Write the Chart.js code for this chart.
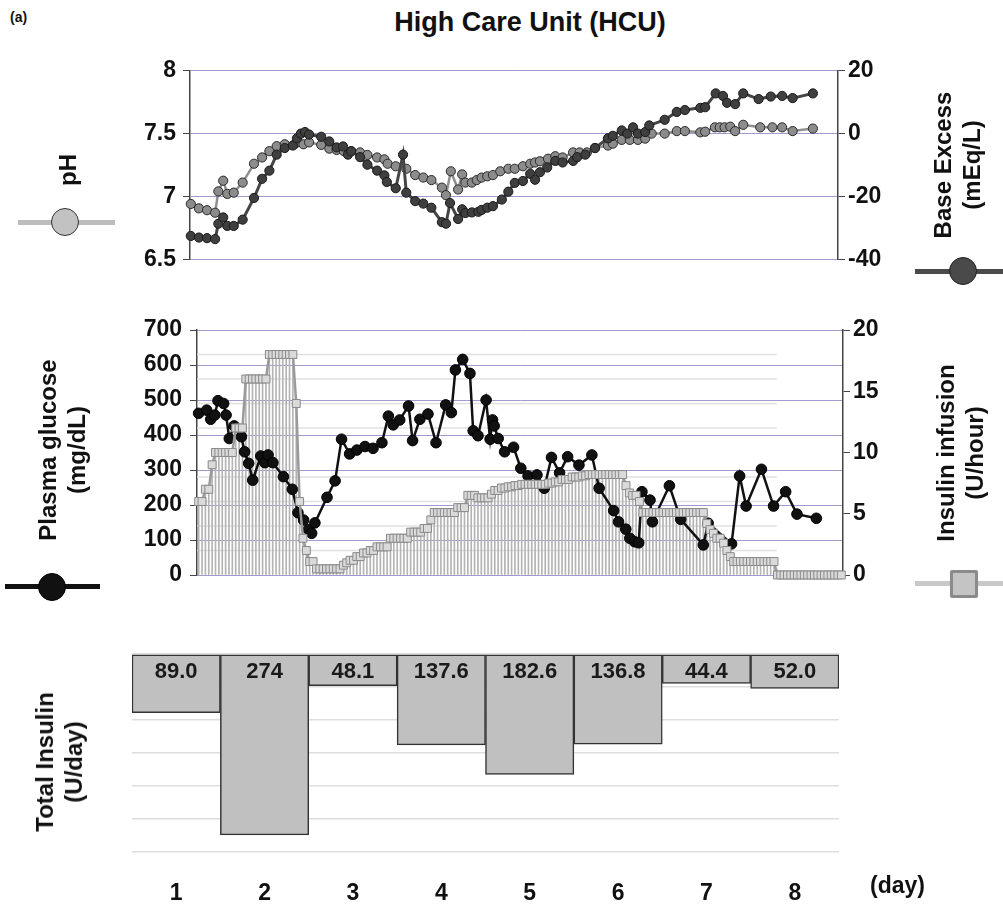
<!DOCTYPE html>
<html>
<head>
<meta charset="utf-8">
<title>High Care Unit (HCU)</title>
<script src="https://cdn.jsdelivr.net/npm/chart.js@4.4.1/dist/chart.umd.min.js"></script>
<style>
  body { margin: 0; background: #fff; font-family: "Liberation Sans", Arial, sans-serif; color: #111; }
  #page { position: relative; width: 1003px; height: 905px; overflow: hidden; }
  canvas { position: absolute; left: 0; }
  .txt { position: absolute; font-weight: bold; white-space: nowrap; }
  .vtitle { position: absolute; font-weight: bold; font-size: 24px; line-height: 29px; text-align: center;
            white-space: nowrap; transform: translate(-50%, -50%) rotate(-90deg); }
  .leg-line { position: absolute; height: 5px; }
  .leg-mark { position: absolute; width: 28px; height: 28px; box-sizing: border-box; transform: translate(-50%, -50%); }
</style>
</head>
<body>
<div id="page">
  <div class="txt" style="left:10px; top:9px; font-size:14px;">(a)</div>
  <div class="txt" style="left:530px; top:22px; font-size:27px; transform:translate(-50%,-50%);">High Care Unit (HCU)</div>

  <canvas id="gasChart" width="1003" height="230" style="top:50px"></canvas>
  <canvas id="glucoseChart" width="1003" height="300" style="top:300px"></canvas>
  <canvas id="dailyChart" width="1003" height="275" style="top:630px"></canvas>

  <!-- axis titles -->
  <div class="vtitle" style="left:67px; top:170px;">pH</div>
  <div class="vtitle" style="left:957px; top:165px;">Base Excess<br>(mEq/L)</div>
  <div class="vtitle" style="left:62px; top:450px;">Plasma glucose<br>(mg/dL)</div>
  <div class="vtitle" style="left:960px; top:453px;">Insulin infusion<br>(U/hour)</div>
  <div class="vtitle" style="left:59px; top:762px;">Total Insulin<br>(U/day)</div>
  <div class="txt" style="left:870px; top:872px; font-size:23px;">(day)</div>

  <!-- legend keys -->
  <div class="leg-line" style="left:18px; top:220px; width:97px; background:#bdbdbd;"></div>
  <div class="leg-mark" style="left:65px; top:222px; border-radius:50%; background:#c2c2c2; border:1.5px solid #333;"></div>
  <div class="leg-line" style="left:915px; top:269px; width:88px; background:#4a4a4a;"></div>
  <div class="leg-mark" style="left:963px; top:271px; border-radius:50%; background:#4a4a4a; border:1.5px solid #222;"></div>
  <div class="leg-line" style="left:5px; top:584px; width:95px; background:#111;"></div>
  <div class="leg-mark" style="left:52px; top:587px; border-radius:50%; background:#111; border:1.5px solid #000;"></div>
  <div class="leg-line" style="left:915px; top:581px; width:88px; background:#c8c8c8;"></div>
  <div class="leg-mark" style="left:964px; top:584px; border-radius:2px; background:#c4c4c4; border:3px solid #8a8a8a;"></div>
</div>

<script>
/* ─── Data (x = days since admission) ─── */
const phDay = [0.01, 0.11, 0.21, 0.31, 0.35, 0.41, 0.46, 0.54, 0.65, 0.79,
               0.89, 0.98, 1.07, 1.17, 1.30, 1.40, 1.47, 1.62, 1.72, 1.81,
               1.90, 1.99, 2.10, 2.19, 2.31, 2.40, 2.44, 2.54, 2.67, 2.78,
               2.88, 2.98, 3.11, 3.16, 3.22, 3.31, 3.36, 3.40, 3.48, 3.54,
               3.60, 3.67, 3.74, 3.83, 3.93, 4.01, 4.11, 4.20, 4.26, 4.32,
               4.42, 4.51, 4.60, 4.73, 4.81, 4.90, 5.00, 5.16, 5.22, 5.33,
               5.43, 5.53, 5.62, 5.70, 5.86, 6.01, 6.11, 6.30, 6.36, 6.48,
               6.54, 6.60, 6.67, 6.73, 6.83, 7.04, 7.19, 7.31, 7.44, 7.69];
const phValue = [6.94, 6.905, 6.89, 6.87, 7.04, 7.125, 7.02, 7.03, 7.11, 7.26,
                 7.31, 7.36, 7.40, 7.415, 7.42, 7.415, 7.43, 7.41, 7.38, 7.37,
                 7.36, 7.36, 7.35, 7.33, 7.31, 7.295, 7.26, 7.24, 7.22, 7.17,
                 7.15, 7.13, 7.07, 7.01, 7.20, 7.055, 7.175, 7.11, 7.11, 7.13,
                 7.15, 7.16, 7.17, 7.20, 7.22, 7.22, 7.24, 7.26, 7.27, 7.28,
                 7.30, 7.32, 7.31, 7.35, 7.35, 7.35, 7.385, 7.405, 7.42, 7.45,
                 7.45, 7.45, 7.46, 7.50, 7.50, 7.52, 7.52, 7.51, 7.515, 7.55,
                 7.55, 7.55, 7.555, 7.52, 7.57, 7.55, 7.55, 7.55, 7.52, 7.54];

const beDay = [0.01, 0.11, 0.21, 0.31, 0.35, 0.41, 0.46, 0.54, 0.65, 0.79,
               0.89, 0.98, 1.07, 1.17, 1.27, 1.32, 1.37, 1.42, 1.47, 1.62,
               1.72, 1.81, 1.89, 1.95, 1.99, 2.10, 2.19, 2.31, 2.40, 2.43,
               2.54, 2.63, 2.67, 2.78, 2.88, 2.98, 3.11, 3.16, 3.21, 3.31,
               3.36, 3.40, 3.48, 3.56, 3.60, 3.67, 3.74, 3.85, 3.93, 4.01,
               4.11, 4.20, 4.26, 4.32, 4.41, 4.51, 4.60, 4.73, 4.78, 4.88,
               5.00, 5.16, 5.22, 5.33, 5.40, 5.47, 5.53, 5.62, 5.67, 5.86,
               6.01, 6.11, 6.30, 6.36, 6.49, 6.58, 6.63, 6.73, 6.83, 7.02,
               7.17, 7.31, 7.44, 7.69];
const beValue = [-32.6, -33.1, -33.3, -33.6, -28.7, -26.7, -29.4, -29.4, -27.4, -20.5,
                 -14.4, -11.8, -6.7, -4.6, -3.8, -1.5, 0, 0.5, -0.3, -1.0,
                 -2.5, -4.4, -4.1, -6.7, -5.6, -7.5, -9.9, -11.8, -13.3, -15.4,
                 -17.4, -6.7, -18.8, -21.5, -22.3, -23.6, -28.2, -28.7, -22.1, -27.2,
                 -24.1, -25.3, -25.1, -24.9, -24.3, -23.6, -23.1, -21.0, -18.5, -15.7,
                 -15.1, -12.8, -14.7, -12.3, -10.8, -8.7, -9.2, -8.7, -7.5, -6.7,
                 -4.6, -1.5, -0.7, 1.0, 0, 2.0, 0, 0.5, 2.6, 4.4,
                 6.9, 7.5, 8.2, 8.4, 12.8, 12.0, 9.8, 9.4, 12.8, 11.0,
                 11.8, 12.0, 11.3, 12.8];

const glucoseDay = [0.02, 0.12, 0.17, 0.22, 0.26, 0.33, 0.36, 0.40, 0.46, 0.55,
                    0.59, 0.64, 0.69, 0.79, 0.84, 0.88, 0.94, 1.07, 1.18, 1.25,
                    1.32, 1.38, 1.42, 1.46, 1.61, 1.71, 1.79, 1.89, 1.98, 2.08,
                    2.18, 2.29, 2.37, 2.43, 2.51, 2.62, 2.67, 2.76, 2.86, 2.96,
                    3.08, 3.15, 3.20, 3.29, 3.38, 3.42, 3.48, 3.58, 3.63, 3.66,
                    3.68, 3.73, 3.81, 3.92, 4.01, 4.10, 4.21, 4.30, 4.39, 4.49,
                    4.59, 4.73, 4.89, 4.98, 5.16, 5.22, 5.31, 5.36, 5.42, 5.47,
                    5.51, 5.61, 5.64, 5.85, 5.99, 6.27, 6.33, 6.62, 6.72, 6.80,
                    6.99, 7.14, 7.29, 7.43, 7.67];
const glucoseValue = [462, 471, 445, 457, 498, 490, 457, 390, 426, 395,
                      352, 319, 271, 340, 321, 343, 321, 281, 245, 178,
                      157, 130, 119, 149, 222, 269, 388, 346, 357, 367,
                      362, 378, 454, 429, 443, 483, 384, 445, 460, 378,
                      486, 464, 586, 616, 576, 412, 398, 500, 388, 443,
                      426, 390, 352, 365, 305, 283, 286, 248, 336, 292,
                      338, 314, 343, 248, 184, 152, 131, 105, 95, 92,
                      238, 214, 152, 255, 159, 86, 148, 89, 283, 197,
                      302, 197, 238, 174, 162];

// insulin infusion rate (U/hour), one reading per hour from admission
const insulinRate = [
  6, 6, 7, 7, 9, 10, 10, 10, 10, 10, 10, 12, 12, 12, 16, 16, 16, 16, 16, 16, 16, 18, 18, 18,
  18, 18, 18, 18, 18, 14, 6, 3, 2, 1.1, 1.1, 0.5, 0.5, 0.5, 0.5, 0.5, 0.5, 0.5, 0.5, 0.8, 1, 1.2, 1.2, 1.5,
  1.5, 1.8, 1.8, 2, 2, 2.3, 2.3, 2.3, 2.3, 3, 3, 3, 3, 3, 3, 3.5, 3.5, 3.5, 3.5, 3.8, 3.8, 4.5, 5.1, 5.1,
  5.1, 5.1, 5.1, 5.1, 5.1, 5.5, 5.5, 5.5, 6.5, 6.5, 6.5, 6.3, 6.3, 6.3, 6.3, 6.6, 6.9, 6.9, 7.1, 7.1, 7.2, 7.2, 7.3, 7.3,
  7.4, 7.4, 7.4, 7.4, 7.4, 7.4, 7.4, 7.4, 7.5, 7.5, 7.6, 7.6, 7.8, 7.8, 7.8, 8, 8, 8, 8.1, 8.1, 8.2, 8.2, 8.2, 8.2,
  8.2, 8.2, 8.2, 8.2, 8.2, 8.2, 8.2, 7.3, 6.7, 6.5, 6.5, 6, 5.1, 5.1, 5.1, 5.1, 5.1, 5.1, 5.1, 5.1, 5.1, 5.1, 5.1, 5.1,
  5.1, 5.1, 5.1, 5.1, 5.1, 5.1, 5.1, 4.2, 3.7, 3.4, 3, 3, 2.6, 2, 1.5, 1.1, 1.1, 1.1, 1.1, 1.1, 1.1, 1.1, 1.1, 1.1,
  1.1, 1.1, 1.1, 1.1, 0, 0, 0, 0, 0, 0, 0, 0, 0, 0, 0, 0, 0, 0, 0, 0, 0, 0, 0, 0
];

// light guide lines of the infusion panel (U/hour) and where they stop (day)
const guideRates = [2, 4, 6, 8, 12, 14, 16, 18];
const guideEndDay = 7.18;

const dayLabels = ['1', '2', '3', '4', '5', '6', '7', '8'];
const dailyInsulin = [89.0, 274, 48.1, 137.6, 182.6, 136.8, 44.4, 52.0];
const dailyInsulinText = ['89.0', '274', '48.1', '137.6', '182.6', '136.8', '44.4', '52.0'];

/* ─── Shared styles ─── */
const FONT = '"Liberation Sans", Arial, sans-serif';
Chart.defaults.font.family = FONT;
Chart.defaults.color = '#111';

const PURPLE = '#a597d0';
const AXIS = '#444';
const tickFont = { size: 23, weight: 'bold' };

const pairs = (xs, ys) => xs.map((x, i) => ({ x: x, y: ys[i] }));
const fixWidth = w => scale => { scale.width = w; };
const plainNumber = v => String(v);

const baseOptions = {
    responsive: false,
    animation: false,
    events: [],
    plugins: { legend: { display: false }, tooltip: { enabled: false } }
};

/* ─── Blood gas panel ─── */
new Chart(document.getElementById('gasChart'), {
    type: 'line',
    data: {
        datasets: [
            {
                label: 'Base Excess',
                data: pairs(beDay, beValue),
                yAxisID: 'yBE',
                borderColor: '#454545',
                borderWidth: 3,
                pointRadius: 4.6,
                pointBackgroundColor: '#3f3f3f',
                pointBorderColor: '#1a1a1a',
                pointBorderWidth: 1,
                clip: false,
                order: 0
            },
            {
                label: 'pH',
                data: pairs(phDay, phValue),
                yAxisID: 'yPH',
                borderColor: '#8f8f8f',
                borderWidth: 2.5,
                pointRadius: 4.6,
                pointBackgroundColor: '#8c8c8c',
                pointBorderColor: '#2a2a2a',
                pointBorderWidth: 1,
                clip: false,
                order: 1
            }
        ]
    },
    options: {
        ...baseOptions,
        layout: { padding: { top: 20, bottom: 15, left: 0, right: 0 } },
        scales: {
            x: { type: 'linear', min: 0, max: 8, display: false },
            yPH: {
                position: 'left', min: 6.5, max: 8,
                ticks: { stepSize: 0.5, font: tickFont, padding: 7, color: '#111', callback: plainNumber },
                grid: { color: PURPLE, lineWidth: 1, tickColor: AXIS, tickLength: 7 },
                border: { color: AXIS, width: 1.5 },
                afterFit: fixWidth(190)
            },
            yBE: {
                position: 'right', min: -40, max: 20,
                ticks: { stepSize: 20, font: tickFont, padding: 3, color: '#111' },
                grid: { drawOnChartArea: false, tickColor: AXIS, tickLength: 7 },
                border: { color: AXIS, width: 1.5 },
                afterFit: fixWidth(165)
            }
        }
    }
});

/* ─── Glucose / insulin infusion panel ─── */
const insulinPoints = insulinRate.map((v, h) => ({ x: (h + 0.5) / 24, y: v }));

const guideLines = {
    id: 'guideLines',
    beforeDatasetsDraw(chart) {
        const { ctx, chartArea, scales } = chart;
        const xEnd = scales.x.getPixelForValue(guideEndDay);
        ctx.save();
        ctx.strokeStyle = '#e0e0e0';
        ctx.lineWidth = 1.5;
        guideRates.forEach(r => {
            const y = scales.yIns.getPixelForValue(r);
            ctx.beginPath();
            ctx.moveTo(chartArea.left, y);
            ctx.lineTo(xEnd, y);
            ctx.stroke();
        });
        ctx.restore();
    }
};

new Chart(document.getElementById('glucoseChart'), {
    type: 'line',
    data: {
        datasets: [
            {
                label: 'Insulin infusion',
                data: insulinPoints,
                yAxisID: 'yIns',
                borderColor: '#9a9a9a',
                borderWidth: 2.5,
                pointStyle: 'rect',
                pointRadius: 5.6,
                pointBackgroundColor: '#dadada',
                pointBorderColor: '#8a8a8a',
                pointBorderWidth: 1,
                clip: false,
                order: 0
            },
            {
                label: 'Plasma glucose',
                data: pairs(glucoseDay, glucoseValue),
                yAxisID: 'yGlu',
                borderColor: '#111',
                borderWidth: 2.5,
                pointRadius: 5.3,
                pointBackgroundColor: '#111',
                pointBorderColor: '#000',
                pointBorderWidth: 1,
                clip: false,
                order: 1
            },
            {
                type: 'bar',
                label: 'drop lines',
                data: insulinPoints,
                yAxisID: 'yIns',
                backgroundColor: '#b4b4b4',
                barThickness: 1,
                grouped: false,
                order: 2
            }
        ]
    },
    options: {
        ...baseOptions,
        layout: { padding: { top: 30, bottom: 25, left: 0, right: 0 } },
        scales: {
            x: { type: 'linear', min: 0, max: 8, display: false, offset: false },
            yGlu: {
                position: 'left', min: 0, max: 700,
                ticks: { stepSize: 100, font: tickFont, padding: 8, color: '#111' },
                grid: { color: PURPLE, lineWidth: 1, tickColor: AXIS, tickLength: 7 },
                border: { color: AXIS, width: 1.5 },
                afterFit: fixWidth(197)
            },
            yIns: {
                position: 'right', min: 0, max: 20,
                ticks: { stepSize: 5, font: tickFont, padding: 3, color: '#111' },
                grid: { drawOnChartArea: false, tickColor: AXIS, tickLength: 7 },
                border: { color: AXIS, width: 1.5 },
                afterFit: fixWidth(160)
            }
        }
    },
    plugins: [guideLines]
});

/* ─── Total insulin per day ─── */
const barValueLabels = {
    id: 'barValueLabels',
    afterDatasetsDraw(chart) {
        const { ctx, chartArea } = chart;
        const meta = chart.getDatasetMeta(0);
        ctx.save();
        ctx.font = 'bold 22px ' + FONT;
        ctx.fillStyle = '#1a1a1a';
        ctx.textAlign = 'center';
        ctx.textBaseline = 'middle';
        meta.data.forEach((bar, i) => ctx.fillText(dailyInsulinText[i], bar.x, chartArea.top + 18));
        ctx.restore();
    }
};

new Chart(document.getElementById('dailyChart'), {
    type: 'bar',
    data: {
        labels: dayLabels,
        datasets: [{
            label: 'Total Insulin',
            data: dailyInsulin,
            backgroundColor: '#c0c0c0',
            borderColor: '#333',
            borderWidth: 1.5,
            borderSkipped: false,
            barPercentage: 1,
            categoryPercentage: 1
        }]
    },
    options: {
        ...baseOptions,
        layout: { padding: { top: 24, bottom: 0, left: 0, right: 164 } },
        scales: {
            x: {
                ticks: { font: tickFont, padding: 20, color: '#111' },
                grid: { display: false },
                border: { display: false },
                afterFit: scale => { scale.height = 53; }
            },
            y: {
                reverse: true, min: 0, max: 300,
                ticks: { stepSize: 50, display: false },
                grid: { color: '#dedede', lineWidth: 1.5, drawTicks: false },
                border: { display: false },
                afterFit: fixWidth(132)
            }
        }
    },
    plugins: [barValueLabels]
});
</script>
</body>
</html>
